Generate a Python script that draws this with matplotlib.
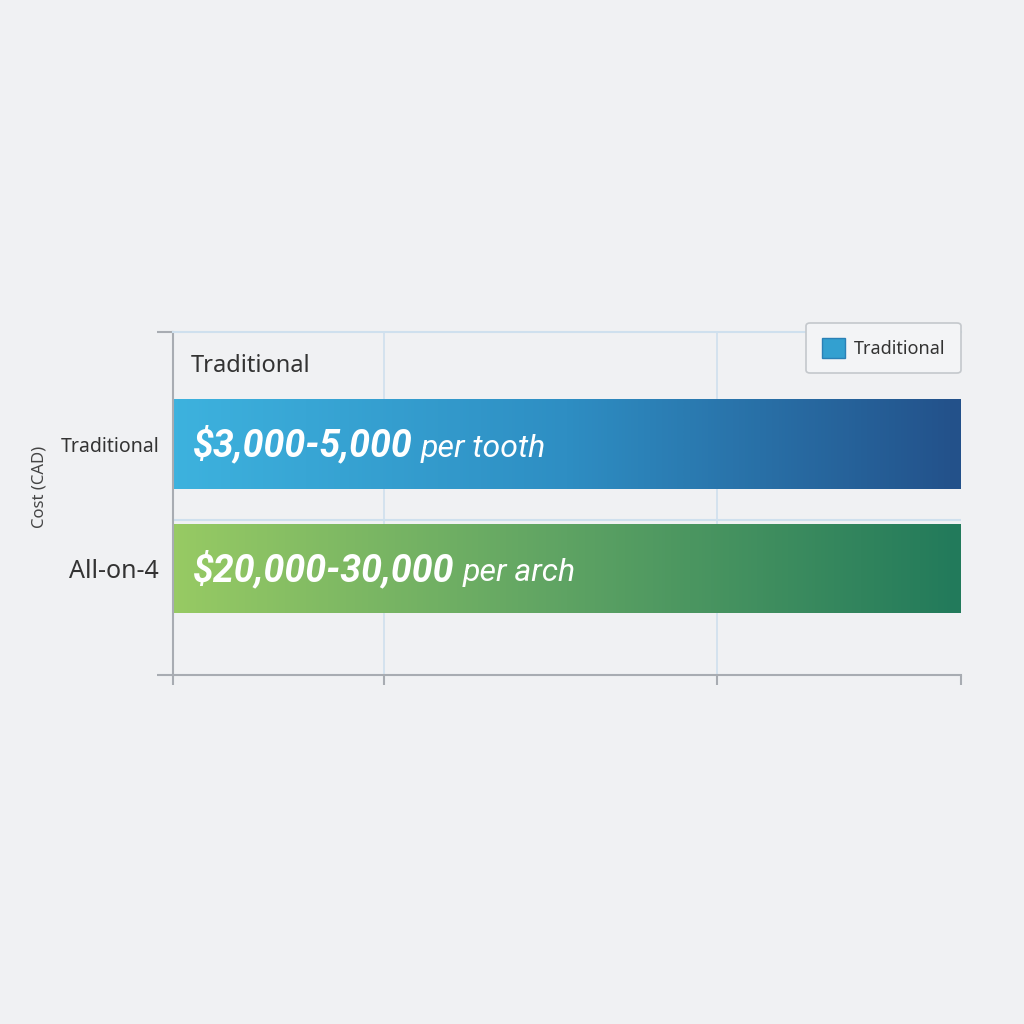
import matplotlib
matplotlib.use("Agg")
import matplotlib.pyplot as plt
import numpy as np
from matplotlib.colors import LinearSegmentedColormap
from matplotlib.patches import Rectangle, Patch
from matplotlib import font_manager as fm

# ---- data ----
categories = ["Traditional", "All-on-4"]
values = [100, 100]
cost_labels = ["$3,000-5,000", "$20,000-30,000"]
unit_labels = ["per tooth", "per arch"]
x_ticks = [0, 26.8, 69, 100]
grid_ticks = [26.8, 69]
legend_labels = ["Traditional"]
header_text = "Traditional"
y_axis_label = "Cost (CAD)"

bar_colors = [["#3DB2DE", "#2E8EC3", "#23518A"],
              ["#97CA63", "#5EA363", "#227A5B"]]

FONT = ["Noto Sans", "DejaVu Sans"]
plt.rcParams["font.family"] = FONT
BG = "#F0F1F3"

def find_font(weight_lo, weight_hi):
    for fam in ["Roboto", "Lato", "Inter", "DejaVu Sans"]:
        for f in fm.fontManager.ttflist:
            if f.name != fam or f.style not in ("italic", "oblique"):
                continue
            if str(f.stretch) not in ("normal", "500"):
                continue
            if "ondensed" in f.fname or "arrow" in f.fname or "Semi" in f.fname:
                continue
            w = f.weight
            if isinstance(w, str):
                w = 700 if "bold" in w.lower() else 400
            if weight_lo <= w <= weight_hi:
                return fm.FontProperties(fname=f.fname)
    return None

bi_fp = find_font(650, 750) or fm.FontProperties(family="DejaVu Sans", weight="bold", style="italic")
it_fp = find_font(380, 420) or fm.FontProperties(family="DejaVu Sans", style="italic")

fig = plt.figure(figsize=(10.24, 10.24), dpi=100, facecolor=BG)
ax = fig.add_axes([173/1024, 1-675/1024, 788/1024, 343/1024])
ax.set_facecolor(BG)

ypos = np.arange(len(categories))
bar_h = 0.72

for i, (v, cols) in enumerate(zip(values, bar_colors)):
    y0 = ypos[i] - bar_h/2
    rect = Rectangle((0, y0), v, bar_h, facecolor="none", edgecolor="none", zorder=2)
    ax.add_patch(rect)
    cmap = LinearSegmentedColormap.from_list(f"g{i}", cols)
    grad = np.linspace(0, 1, 256).reshape(1, -1)
    im = ax.imshow(grad, cmap=cmap, aspect="auto", extent=(0, v, y0 + bar_h, y0),
                   zorder=2, interpolation="bicubic")
    im.set_clip_path(rect)

ax.set_xlim(0, 100)
ax.set_ylim(1.855, -0.9)

# bar texts
fig.canvas.draw()
renderer = fig.canvas.get_renderer()
for i in range(len(categories)):
    fp = bi_fp.copy()
    fp.set_size(27)
    t1 = ax.text(2.5, ypos[i] + 0.1, cost_labels[i], color="white", fontproperties=fp,
                 va="baseline", ha="left", zorder=4)
    bb = t1.get_window_extent(renderer=renderer)
    x_end = ax.transData.inverted().transform((bb.x1, 0))[0]
    fp2 = it_fp.copy()
    fp2.set_size(23)
    ax.text(x_end + 1.1, ypos[i] + 0.1, unit_labels[i], color="white", fontproperties=fp2,
            va="baseline", ha="left", zorder=4)

# header text inside the plot
ax.text(2.2, -0.63, header_text, fontsize=17, color="#333333", va="center", ha="left")

# grids
ax.set_xticks(x_ticks)
ax.set_xticklabels([])
for gx in grid_ticks:
    ax.axvline(gx, color="#CFE0EE", linewidth=1.2, zorder=0)
ax.axhline(0.61, color="#CFE0EE", linewidth=1.5, zorder=1)

ax.set_yticks(ypos)
ax.set_yticklabels(categories)
for lbl, fs in zip(ax.get_yticklabels(), [14, 18]):
    lbl.set_fontsize(fs)
    lbl.set_color("#333333")
ax.tick_params(axis="y", length=0, pad=10)
ax.set_yticks([1.855, -0.9], minor=True)
ax.tick_params(axis="y", which="minor", length=11.5, color="#A8ACB2", width=1.5)
ax.tick_params(axis="x", length=7.5, color="#A8ACB2", width=1.5)

for s in ["left", "bottom"]:
    ax.spines[s].set_color("#A8ACB2")
    ax.spines[s].set_linewidth(1.5)
ax.spines["right"].set_visible(False)
ax.spines["top"].set_color("#CFE0EE")
ax.spines["top"].set_linewidth(1.5)

fig.text(40/1024, 1-487/1024, y_axis_label, rotation=90, fontsize=12,
         color="#444444", va="center", ha="center")

leg = ax.legend(handles=[Patch(facecolor="#33A0D0", edgecolor="#2A80B6")],
                labels=legend_labels, loc="upper right", bbox_to_anchor=(1.0, 1.027),
                borderaxespad=0, fontsize=13, frameon=True, fancybox=True,
                handlelength=1.3, handleheight=1.3, handletextpad=0.5,
                borderpad=0.85, labelcolor="#333333")
leg.get_frame().set_facecolor("#F3F4F6")
leg.get_frame().set_edgecolor("#C4C8CC")
leg.get_frame().set_linewidth(1.2)
leg.get_frame().set_alpha(1)

fig.savefig("out.png", dpi=100, facecolor=BG)
